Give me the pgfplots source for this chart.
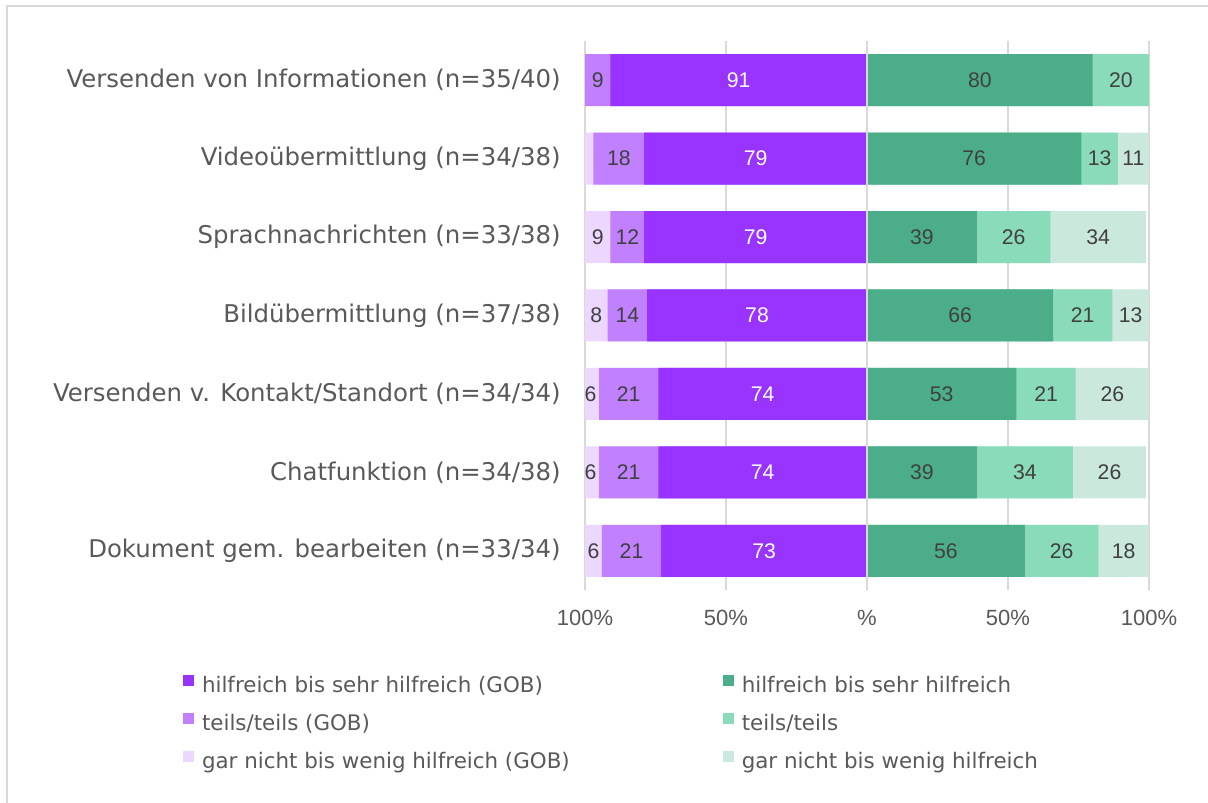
\documentclass[border=0pt]{standalone}
\usepackage{fontspec}
\setmainfont{DejaVu Sans}
\newfontfamily\arial{Liberation Sans}
\usepackage{pgfplots}
\usepackage{pgfplotstable}
\pgfplotsset{compat=1.18}
\definecolor{pd}{HTML}{9933FF}
\definecolor{pm}{HTML}{C080FF}
\definecolor{pl}{HTML}{EBD7FF}
\definecolor{gd}{HTML}{4BAE89}
\definecolor{gm}{HTML}{89DBB9}
\definecolor{gl}{HTML}{CBE8DD}
\definecolor{txt}{HTML}{595959}
\definecolor{lbl}{HTML}{404040}
\definecolor{gridc}{HTML}{D9D9D9}

% GOB: hilfreich, teils, gar nicht (Lg = label shown for gar nicht)
\pgfplotstableread{
y h t g Lg
6 91 9 0 {}
5 79 18 3 {}
4 79 12 9 9
3 78 14 8 8
2 74 21 6 6
1 74 21 6 6
0 73 21 6 6
}\gob
\pgfplotstableread{
y h t g Lg
6 80 20 0 {}
5 76 13 11 11
4 39 26 34 34
3 66 21 13 13
2 53 21 26 26
1 39 34 26 26
0 56 26 18 18
}\oth

\pgfplotsset{
 base/.style={
  scale only axis, width=141pt, height=274.5pt,
  xmin=0, xmax=100, ymin=-0.5, ymax=6.5,
  axis line style={draw=none}, major tick length=0pt,
  xmajorgrids, grid style={gridc, line width=1pt},
  ytick={0,...,6}, xtick={0,50,100},
  xticklabel style={font=\arial\fontsize{11}{13}\selectfont, text=txt, anchor=center, yshift=-14pt},
 },
 mybar/.style={xbar, bar width=26pt, bar shift=0pt, draw=none, fill=#1, forget plot},
 mylab/.style={draw=none, mark=none, forget plot, nodes near coords, point meta=explicit symbolic,
    every node near coord/.append style={anchor=center, inner sep=0pt, font=\arial\fontsize{10.6}{12}\selectfont, text=#1}},
}

\begin{document}
\begin{tikzpicture}
\useasboundingbox (0,0) rectangle (604pt,401pt);
\draw[gridc, line width=1pt] (3.35pt,-10pt) -- (3.35pt,398pt) -- (620pt,398pt);

\begin{axis}[base, at={(292.5pt,106pt)}, anchor=south west, x dir=reverse,
  xticklabels={,50\%,100\%},
  yticklabels={Dokument gem. bearbeiten (n=33/34), Chatfunktion (n=34/38), Versenden v. Kontakt/Standort (n=34/34), Bildübermittlung (n=37/38), Sprachnachrichten (n=33/38), Videoübermittlung (n=34/38), Versenden von Informationen (n=35/40)},
  yticklabel style={font=\fontsize{12.2}{14}\selectfont, text=txt, anchor=east, inner sep=0pt, xshift=-12pt}]
\addplot[mybar=pl] table[x expr=\thisrow{h}+\thisrow{t}+\thisrow{g}, y=y]{\gob};
\addplot[mybar=pm] table[x expr=\thisrow{h}+\thisrow{t}, y=y]{\gob};
\addplot[mybar=pd] table[x=h, y=y]{\gob};
\addplot[mylab=white] table[x expr=\thisrow{h}/2, y=y, meta=h]{\gob};
\addplot[mylab=lbl] table[x expr=\thisrow{h}+\thisrow{t}/2, y=y, meta=t]{\gob};
\addplot[mylab=lbl] table[x expr=\thisrow{h}+\thisrow{t}+\thisrow{g}/2, y=y, meta=Lg]{\gob};
\end{axis}

\begin{axis}[base, at={(433.5pt,106pt)}, anchor=south west,
  xticklabels={\%,50\%,100\%}, yticklabels={},
  legend columns=2,
  legend image code/.code={\fill[#1] (0pt,0.3pt) rectangle (5.5pt,5.8pt);},
  legend style={at={(-2.4255,-0.1548)}, anchor=north west, draw=none, fill=none, inner sep=0pt, outer sep=0pt,
    font=\fontsize{10.7}{13}\selectfont, text=txt,
    nodes={inner sep=0pt, text height=8pt, text depth=2.5pt},
    /tikz/row sep=8pt,
    /tikz/every odd column/.append style={column sep=4pt},
    /tikz/every even column/.append style={column sep=76.5pt}},
  legend cell align=left]
\addlegendimage{fill=pd, draw=none}
\addlegendimage{fill=gd, draw=none}
\addlegendimage{fill=pm, draw=none}
\addlegendimage{fill=gm, draw=none}
\addlegendimage{fill=pl, draw=none}
\addlegendimage{fill=gl, draw=none}
\legend{hilfreich bis sehr hilfreich (GOB), hilfreich bis sehr hilfreich, teils/teils (GOB), teils/teils, gar nicht bis wenig hilfreich (GOB), gar nicht bis wenig hilfreich}
\addplot[mybar=gl] table[x expr=\thisrow{h}+\thisrow{t}+\thisrow{g}, y=y]{\oth};
\addplot[mybar=gm] table[x expr=\thisrow{h}+\thisrow{t}, y=y]{\oth};
\addplot[mybar=gd] table[x=h, y=y]{\oth};
\addplot[mylab=lbl] table[x expr=\thisrow{h}/2, y=y, meta=h]{\oth};
\addplot[mylab=lbl] table[x expr=\thisrow{h}+\thisrow{t}/2, y=y, meta=t]{\oth};
\addplot[mylab=lbl] table[x expr=\thisrow{h}+\thisrow{t}+\thisrow{g}/2, y=y, meta=Lg]{\oth};
\draw[gridc, line width=1pt] (axis cs:0,-0.5) -- (axis cs:0,6.5);
\end{axis}
\end{tikzpicture}
\end{document}
